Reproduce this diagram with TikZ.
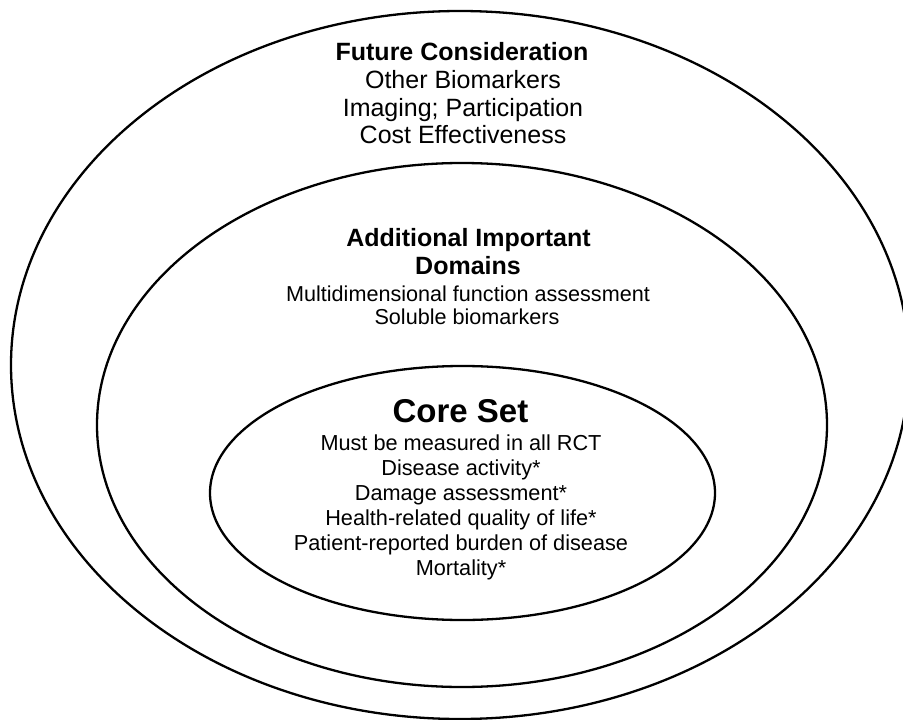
\documentclass[tikz,border=0pt]{standalone}
\usepackage{fontspec}
\setmainfont{Liberation Sans}
\usetikzlibrary{shapes.geometric}
\tikzset{
  ring/.style={draw=black, line width=2.3pt},
  txt/.style={anchor=base, inner sep=0pt, text=black},
  head/.style={txt, font=\fontsize{25}{30}\selectfont\bfseries},
  outertxt/.style={txt, font=\fontsize{25}{30}\selectfont},
  midtxt/.style={txt, font=\fontsize{21.6}{26}\selectfont},
  coretxt/.style={txt, font=\fontsize{21.7}{26}\selectfont},
  corehead/.style={txt, font=\fontsize{33}{38}\selectfont\bfseries}
}
\begin{document}
\begin{tikzpicture}[x=1pt,y=-1pt]
\useasboundingbox (0,0) rectangle (903,720);
\fill[white] (0,0) rectangle (903,720);
% rings
\draw[ring] (460,365) ellipse [x radius=449pt, y radius=354pt];
\draw[ring] (462,425) ellipse [x radius=365pt, y radius=262pt];
\draw[ring] (462.5,493) ellipse [x radius=252.5pt, y radius=127pt];
% outer texts
\node[head] (fc) at (462,60) {Future Consideration};
\node[outertxt] (ob) at (463,88) {Other Biomarkers};
\node[outertxt] (ip) at (463,116) {Imaging; Participation};
\node[outertxt] (ce) at (463,143) {Cost Effectiveness};
% middle texts
\node[head] (ad1) at (468.5,246) {Additional Important};
\node[head] (ad2) at (468,274) {Domains};
\node[midtxt] (mfa) at (468,301) {Multidimensional function assessment};
\node[midtxt] (sb) at (467,324) {Soluble biomarkers};
% core texts
\node[corehead] (cs) at (460.5,422) {Core Set};
\node[coretxt] (c1) at (461,450) {Must be measured in all RCT};
\node[coretxt] (c2) at (461,475) {Disease activity*};
\node[coretxt] (c3) at (461,500) {Damage assessment*};
\node[coretxt] (c4) at (461,525) {Health-related quality of life*};
\node[coretxt] (c5) at (461,550) {Patient-reported burden of disease};
\node[coretxt] (c6) at (461,575) {Mortality*};
\end{tikzpicture}
\end{document}
